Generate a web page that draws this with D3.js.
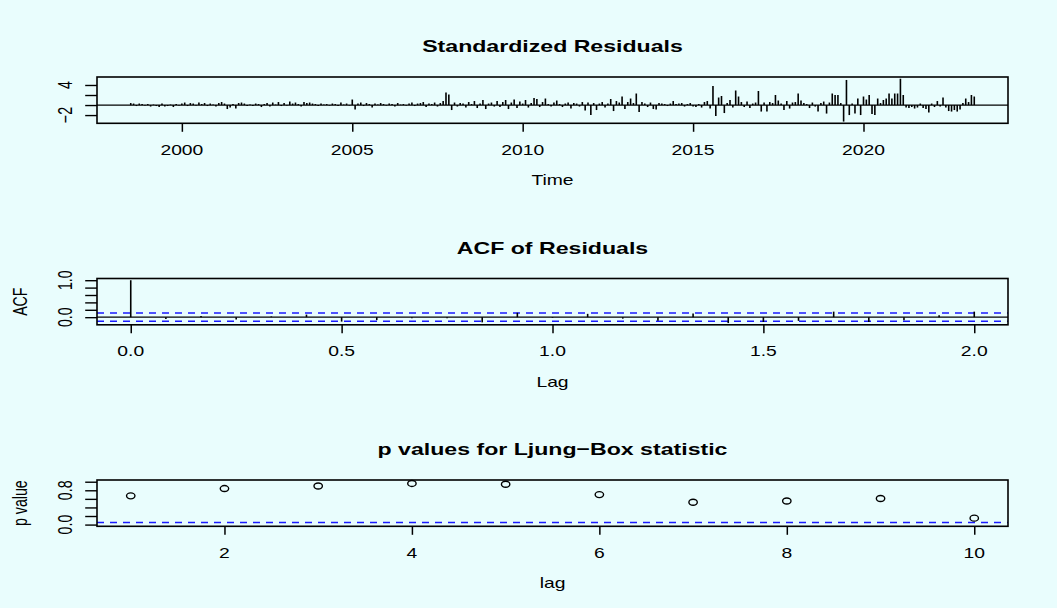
<!DOCTYPE html>
<html><head><meta charset="utf-8">
<script src="https://cdn.jsdelivr.net/npm/d3@7"></script>
<style>body{margin:0;background:#fff}text{font-family:"Liberation Sans",Arial,Helvetica,sans-serif;fill:#000}</style>
</head><body>
<svg id="c" width="1057" height="608"></svg>
<script>
// ---------------- data ----------------
const residualStart = 1998.5;          // July 1998, monthly series
const residualFreq = 12;
const residuals = [
  0.4, 0.3, -0.2, 0.3, 0.2, -0.1,
  0.2, -0.3, 0.1, -0.2, -0.4, 0.3, -0.3, -0.2, 0.1, -0.4, 0.2, -0.1,
  0.3, 0.5, -0.2, 0.4, 0.3, -0.1, 0.5, 0.2, 0.4, -0.2, 0.3, 0.1,
  -0.3, 0.4, 0.6, 0.3, -0.8, -0.5, 0.2, -0.7, 0.4, 0.5, 0.3, -0.2,
  0.1, -0.2, 0.3, 0.2, -0.4, 0.2, 0.4, -0.3, 0.5, 0.1, 0.6, -0.2,
  0.4, -0.1, 0.7, 0.3, 0.5, 0.2, -0.3, 0.6, 0.4, 0.5, 0.3, 0.2,
  -0.2, 0.3, 0.1, 0.2, -0.1, 0.3, 0.2, -0.2, 0.5, 0.1, 0.3, -0.1,
  1.1, -0.9, 0.3, 0.5, -0.2, 0.4, 0.2, -0.5, 0.3, 0.1, 0.4, 0.2,
  -0.1, 0.3, 0.2, -0.3, 0.4, 0.1, 0.2, -0.1, 0.3, 0.5, -0.2, 0.3,
  0.4, 0.6, -0.4, 0.3, 0.2, 0.5, -0.3, 0.4, 0.8, 2.5, 2.1, -1.0,
  0.5, -0.3, 0.4, 0.3, -0.5, 0.6, 0.2, 0.8, -0.6, 0.3, 1.0, -0.8,
  0.3, 0.5, -0.3, 0.8, -0.4, 0.6, 1.0, -0.8, 0.5, 1.1, -0.6, 0.7,
  0.3, 1.0, -0.5, 0.4, 1.4, 1.2, -0.4, 0.6, 1.3, 0.2, -0.3, 0.5,
  0.9, 0.2, -0.4, 0.3, 0.5, -0.7, 0.4, 0.3, -0.3, 0.6, -1.1, 0.5,
  -2.0, 0.4, -1.0, 0.3, 0.6, -0.5, 0.3, 1.2, -1.2, 0.8, 0.5, 1.7,
  -0.8, 0.6, 1.3, 0.4, 2.3, -1.4, 0.6, 0.3, -0.4, 0.5, -0.8, -0.9,
  0.4, 0.3, 0.2, -0.2, 0.3, 0.8, 0.2, 0.3, 0.4, -0.3, 0.2, 0.4,
  -0.3, -0.4, 0.2, -0.5, 0.6, 0.8, -0.7, 3.8, -2.2, 1.5, 1.8, -1.6,
  0.4, 1.0, -0.5, 2.9, 1.7, 0.6, -0.4, 0.7, -0.6, 0.3, 0.5, 2.8,
  -1.3, 0.5, -1.3, 0.6, 0.4, 2.0, 0.9, 0.3, -1.0, 0.8, -0.7, 0.5,
  0.6, 2.3, 0.9, 0.4, 0.2, -0.6, 0.5, -0.3, -1.3, 0.4, 0.7, -1.7,
  0.5, 2.3, 2.0, 2.0, 0.4, -3.3, 5.0, -2.0, 0.3, -1.7, 1.3, -2.0,
  1.7, 1.1, 2.0, -1.8, -2.0, 1.3, 0.4, 1.0, 1.3, 2.3, 1.3, 2.3,
  2.3, 5.25, 2.0, -0.5, -0.6, -0.4, -0.7, -0.5, 0.3, -0.6, -0.8, -1.5,
  0.3, -0.4, 0.8, -0.3, 1.5, -0.5, -1.2, -1.3, -1.0, -1.3, -0.9, 0.4,
  1.3, 0.6, 2.0, 1.7
];
const resXTicks = [2000, 2005, 2010, 2015, 2020];
const resYTicks = [-2, 0, 2, 4];
const resYLabels = ["\u22122", "", "", "4"];

const acfValues = [1.0, -0.05, 0.03, -0.06, 0.02, 0.07, -0.12, -0.08, -0.03, -0.03, -0.14, 0.12,
  -0.02, 0.09, -0.04, -0.10, 0.10, -0.16, -0.13, -0.10, 0.15, -0.13, -0.08, 0.05, 0.15];
const acfClim = 0.1135;
const acfXTicks = [0, 0.5, 1, 1.5, 2];
const acfXLabels = ["0.0", "0.5", "1.0", "1.5", "2.0"];
const acfYTicks = [0, 0.2, 0.4, 0.6, 0.8, 1.0];
const acfYLabels = ["0.0", "", "", "", "", "1.0"];

const lbLags = [1, 2, 3, 4, 5, 6, 7, 8, 9, 10];
const lbPValues = [0.67, 0.84, 0.90, 0.96, 0.94, 0.70, 0.52, 0.55, 0.61, 0.15];
const lbXTicks = [2, 4, 6, 8, 10];
const lbYTicks = [0, 0.2, 0.4, 0.6, 0.8, 1.0];
const lbYLabels = ["0.0", "", "", "", "0.8", ""];
const lbLevel = 0.05;

// ---------------- layout ----------------
const SX = 1.36;            // horizontal stretch of text/glyphs
const FS = 14.2, FSM = 17;  // font sizes
const boxL = 97, boxR = 1008;
const boxTops = [77, 278.5, 480];
const boxH = 46.3;
const BG = "#e9fdfd";

const svg = d3.select("#c");
svg.append("rect").attr("width", 1057).attr("height", 608).attr("fill", BG);

function pad(ext) { const d = (ext[1] - ext[0]) * 0.04; return [ext[0] - d, ext[1] + d]; }

function txt(g, x, y, s, o = {}) {
  g.append("text")
    .attr("transform", `translate(${x},${y}) scale(${SX},1)` + (o.rot ? " rotate(-90)" : ""))
    .attr("text-anchor", o.anchor || "middle")
    .style("font-size", (o.size || FS) + "px")
    .style("font-weight", o.bold ? "bold" : "normal")
    .text(s);
}

function panel(k, xDom, yDom, xTicks, xLabels, yTicks, yLabels, title, xlab, ylab) {
  const top = boxTops[k], bot = top + boxH;
  const x = d3.scaleLinear().domain(xDom).range([boxL, boxR]);
  const y = d3.scaleLinear().domain(yDom).range([bot, top]);
  const g = svg.append("g");
  const xa = d3.axisBottom(x).tickValues(xTicks).tickSize(8.5).tickFormat("");
  g.append("g").attr("transform", `translate(0,${bot})`).call(xa)
    .call(a => { a.select(".domain").remove(); a.selectAll("line").attr("stroke", "#000").attr("stroke-width", 1.5); });
  const ya = d3.axisLeft(y).tickValues(yTicks).tickSize(11.8).tickFormat("");
  g.append("g").attr("transform", `translate(${boxL},0)`).call(ya)
    .call(a => { a.select(".domain").remove(); a.selectAll("line").attr("stroke", "#000").attr("stroke-width", 1.4); });
  xTicks.forEach((t, i) => txt(g, x(t), bot + 31.5, xLabels[i]));
  yTicks.forEach((t, i) => { if (yLabels[i]) txt(g, boxL - 25, y(t), yLabels[i], { rot: true }); });
  txt(g, (boxL + boxR) / 2, top - 25, title, { size: FSM, bold: true });
  txt(g, (boxL + boxR) / 2, bot + 62, xlab);
  if (ylab) txt(g, boxL - 70, (top + bot) / 2, ylab, { rot: true });
  return { g, x, y, top, bot };
}

// ---- panel 1: standardized residuals
{
  const times = residuals.map((v, i) => residualStart + i / residualFreq);
  const p = panel(0, pad(d3.extent(times)), pad(d3.extent(residuals)),
    resXTicks, resXTicks.map(String), resYTicks, resYLabels, "Standardized Residuals", "Time", "");
  p.g.append("g").selectAll("line").data(residuals).join("line")
    .attr("x1", (d, i) => p.x(times[i])).attr("x2", (d, i) => p.x(times[i]))
    .attr("y1", p.y(0)).attr("y2", d => p.y(d))
    .attr("stroke", "#000").attr("stroke-width", 1.6);
  p.g.append("line").attr("x1", boxL).attr("x2", boxR).attr("y1", p.y(0)).attr("y2", p.y(0))
    .attr("stroke", "#000").attr("stroke-width", 1.3);
  p.g.append("rect").attr("x", boxL).attr("y", p.top).attr("width", boxR - boxL).attr("height", boxH)
    .attr("fill", "none").attr("stroke", "#000").attr("stroke-width", 1.6);
}
// ---- panel 2: ACF
{
  const lags = acfValues.map((v, i) => i / 12);
  const ylo = Math.min(d3.min(acfValues), -acfClim), yhi = Math.max(d3.max(acfValues), acfClim);
  const p = panel(1, pad(d3.extent(lags)), pad([ylo, yhi]),
    acfXTicks, acfXLabels, acfYTicks, acfYLabels, "ACF of Residuals", "Lag", "ACF");
  p.g.append("line").attr("x1", boxL).attr("x2", boxR).attr("y1", p.y(0)).attr("y2", p.y(0))
    .attr("stroke", "#000").attr("stroke-width", 1.3);
  [acfClim, -acfClim].forEach(c => p.g.append("line").attr("x1", boxL).attr("x2", boxR)
    .attr("y1", p.y(c)).attr("y2", p.y(c)).attr("stroke", "#1a1aff").attr("stroke-width", 1.5)
    .attr("stroke-dasharray", "7,6"));
  p.g.append("g").selectAll("line").data(acfValues).join("line")
    .attr("x1", (d, i) => p.x(lags[i])).attr("x2", (d, i) => p.x(lags[i]))
    .attr("y1", p.y(0)).attr("y2", d => p.y(d))
    .attr("stroke", "#000").attr("stroke-width", 1.6);
  p.g.append("rect").attr("x", boxL).attr("y", p.top).attr("width", boxR - boxL).attr("height", boxH)
    .attr("fill", "none").attr("stroke", "#000").attr("stroke-width", 1.6);
}
// ---- panel 3: Ljung-Box p-values
{
  const p = panel(2, pad(d3.extent(lbLags)), pad([0, 1]),
    lbXTicks, lbXTicks.map(String), lbYTicks, lbYLabels, "p values for Ljung\u2212Box statistic", "lag", "p value");
  p.g.append("line").attr("x1", boxL).attr("x2", boxR).attr("y1", p.y(lbLevel)).attr("y2", p.y(lbLevel))
    .attr("stroke", "#1a1aff").attr("stroke-width", 1.5).attr("stroke-dasharray", "7,6");
  p.g.append("g").selectAll("ellipse").data(lbPValues).join("ellipse")
    .attr("cx", (d, i) => p.x(lbLags[i])).attr("cy", d => p.y(d))
    .attr("rx", 4.2).attr("ry", 3).attr("fill", "none").attr("stroke", "#000").attr("stroke-width", 1.4);
  p.g.append("rect").attr("x", boxL).attr("y", p.top).attr("width", boxR - boxL).attr("height", boxH)
    .attr("fill", "none").attr("stroke", "#000").attr("stroke-width", 1.6);
}
</script>
</body></html>
